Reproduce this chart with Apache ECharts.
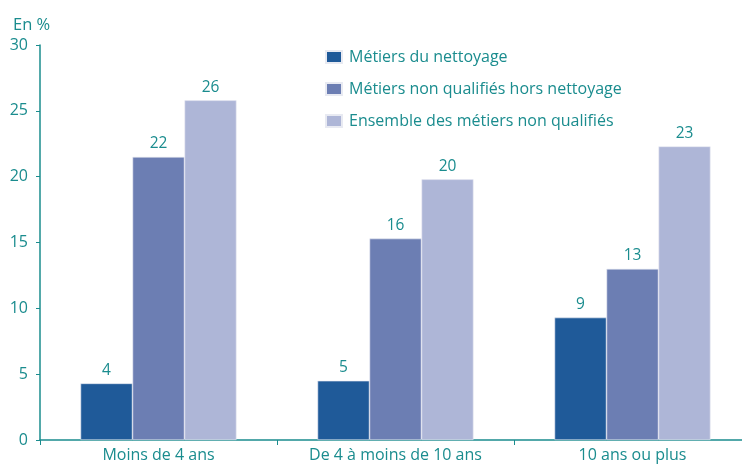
<!DOCTYPE html>
<html>
<head>
<meta charset="utf-8">
<script src="https://cdn.jsdelivr.net/npm/echarts@6/dist/echarts.min.js"></script>
<style>
  html, body { margin: 0; padding: 0; background: #fff; }
  #chart { width: 742px; height: 466px; }
</style>
</head>
<body>
<div id="chart"></div>
<script>
// Categories and series values (bar heights)
const categories = ['Moins de 4 ans', 'De 4 à moins de 10 ans', '10 ans ou plus'];
const seriesNames = [
  'Métiers du nettoyage',
  'Métiers non qualifiés hors nettoyage',
  'Ensemble des métiers non qualifiés'
];
const nettoyage = [4.3, 4.5, 9.3];
const horsNettoyage = [21.5, 15.3, 13.0];
const ensemble = [25.8, 19.8, 22.3];
// Labels printed above the bars
const nettoyageLabels = ['4', '5', '9'];
const horsNettoyageLabels = ['22', '16', '13'];
const ensembleLabels = ['26', '20', '23'];

const teal = '#1a8c8e';
const colors = ['#1f5a99', '#6c7eb3', '#aeb6d7'];

function makeSeries(name, data, labels, color) {
  return {
    name: name,
    type: 'bar',
    data: data,
    barWidth: 52,
    barGap: '0%',
    itemStyle: { color: color, borderColor: '#e8eaf2', borderWidth: 0.6 },
    label: {
      show: true,
      position: 'top',
      distance: 5,
      color: teal,
      fontSize: 15.5,
      fontFamily: 'Open Sans',
      formatter: p => labels[p.dataIndex]
    }
  };
}

const chart = echarts.init(document.getElementById('chart'));
chart.setOption({
  animation: false,
  textStyle: { fontFamily: 'Open Sans' },
  grid: { left: 40, top: 45, width: 711, height: 395, outerBoundsMode: 'none' },
  title: {
    text: 'En %',
    left: 8,
    top: 12,
    textStyle: { color: teal, fontSize: 16.5, fontWeight: 'normal', fontFamily: 'Open Sans' }
  },
  legend: {
    orient: 'vertical',
    left: 320,
    top: 43,
    icon: 'rect',
    itemWidth: 16,
    itemHeight: 12,
    itemGap: 14,
    textStyle: { color: teal, fontSize: 16, lineHeight: 18, fontFamily: 'Open Sans', padding: [0, 0, 0, 2] },
    data: seriesNames
  },
  xAxis: {
    type: 'category',
    data: categories,
    axisLine: { lineStyle: { color: teal, width: 1.5 } },
    axisTick: { show: true, length: 5, lineStyle: { color: teal } },
    axisLabel: { color: teal, fontSize: 16, margin: 7 }
  },
  yAxis: {
    type: 'value',
    min: 0,
    max: 30,
    interval: 5,
    splitLine: { show: false },
    axisLine: { show: true, lineStyle: { color: teal, width: 1.5 } },
    axisTick: { show: true, length: 4, lineStyle: { color: teal } },
    axisLabel: { color: teal, fontSize: 16, margin: 12 }
  },
  series: [
    makeSeries(seriesNames[0], nettoyage, nettoyageLabels, colors[0]),
    makeSeries(seriesNames[1], horsNettoyage, horsNettoyageLabels, colors[1]),
    makeSeries(seriesNames[2], ensemble, ensembleLabels, colors[2])
  ]
});

window.addEventListener('resize', () => chart.resize());
</script>
</body>
</html>
